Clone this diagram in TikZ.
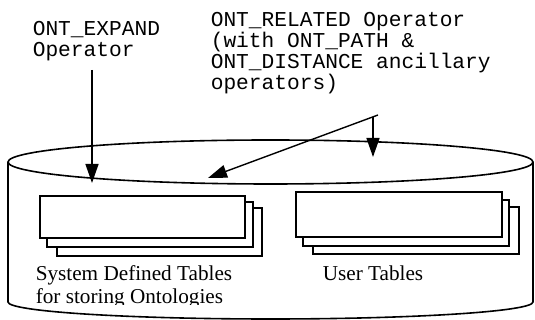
\documentclass[tikz,border=0pt]{standalone}
\usepackage{fontspec}
\setmainfont{Liberation Serif}
\setmonofont{Liberation Mono}
\usetikzlibrary{arrows.meta}

\tikzset{
  oplabel/.style={inner sep=0pt, align=left, anchor=base west,
    font=\ttfamily\fontsize{10.6}{10.5}\selectfont},
  tbllabel/.style={inner sep=0pt, align=left, anchor=base west,
    font=\fontsize{10.6}{11.5}\selectfont},
  tbl/.style={draw, fill=white, line width=1pt},
  oparrow/.style={line width=0.7pt, -{Triangle[length=9.5pt, width=6.5pt]}}
}

\begin{document}
\begin{tikzpicture}[x=0.5pt, y=0.5pt, line width=0.8pt]
  \useasboundingbox (0,0) rectangle (535,320);

  % Database cylinder
  \draw (270.5,158) ellipse [x radius=262.5, y radius=22];
  \draw (8,158) -- (8,18) arc [start angle=180, end angle=360, x radius=262.5, y radius=17] -- (533,158);

  % System tables (back to front)
  \draw[tbl] (57,64) rectangle (262,112);
  \draw[tbl] (47,73) rectangle (253,118);
  \draw[tbl] (40,82) rectangle (245,124);

  % User tables
  \draw[tbl] (313,66) rectangle (519,113);
  \draw[tbl] (303,74) rectangle (509,120);
  \draw[tbl] (296,83) rectangle (502,128);

  % Table labels (bottom line cut by the cylinder)
  \begin{scope}
    \clip (0,15) rectangle (535,320);
    \node[tbllabel] (systxt) at (35,16) {System Defined Tables\\for storing Ontologies};
  \end{scope}
  \node[tbllabel] (usrtxt) at (322,39) {User Tables};

  % Operators
  \node[oplabel] (expand) at (32,263) {ONT\_EXPAND\\Operator};
  \node[oplabel] (related) at (210,230) {ONT\_RELATED Operator\\(with ONT\_PATH \&\\ONT\_DISTANCE ancillary\\operators)};

  \coordinate (expsrc) at (92,250);
  \coordinate (exptip) at (92,137);
  \coordinate (relsrc) at (378,205);
  \coordinate (relbranch) at (373,203);
  \coordinate (systip) at (208,142);
  \coordinate (usrtip) at (373,163);

  \draw[oparrow] (expsrc) -- (exptip);
  \draw[oparrow] (relsrc) -- (systip);
  \draw[oparrow] (relbranch) -- (usrtip);
\end{tikzpicture}
\end{document}
